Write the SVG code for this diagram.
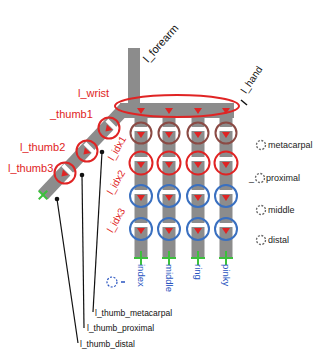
<svg xmlns="http://www.w3.org/2000/svg" width="335" height="354" viewBox="0 0 335 354">
  <defs>
    <style>
      .bone { fill: #8c8c8c; }
      .lbl-red { font-family: "Liberation Sans", Arial, sans-serif; font-size: 11px; fill: #e02424; }
      .lbl-blk { font-family: "Liberation Sans", Arial, sans-serif; font-size: 8.5px; fill: #111; }
      .lbl-leg { font-family: "Liberation Sans", Arial, sans-serif; font-size: 9px; fill: #222; }
      .lbl-blue { font-family: "Liberation Sans", Arial, sans-serif; font-size: 9.5px; fill: #2a55c0; }
      .ring-m { fill: none; stroke: #8b4a44; stroke-width: 2; }
      .ring-p { fill: none; stroke: #e02424; stroke-width: 2; }
      .ring-d { fill: none; stroke: #3a70c0; stroke-width: 2; }
      .band { fill: #ffffff; }
      .tri { fill: #e02424; }
      .tip { stroke: #3cc03c; stroke-width: 2; fill: none; }
      .leader { stroke: #111; stroke-width: 1.2; fill: none; }
      .dot { fill: #111; }
      .leg-ring { fill: none; stroke: #666; stroke-width: 1.3; stroke-dasharray: 2 1.5; }
    </style>
    <!-- joint marker: white band + red triangle -->
    <g id="joint">
      <rect class="band" x="-7" y="-6" width="14" height="4"/>
      <polygon class="tri" points="-4,-1 4,-1 0,5"/>
    </g>
  </defs>

  <!-- forearm -->
  <g id="forearm">
    <rect class="bone" x="128" y="48" width="12" height="58"/>
    <text class="lbl-blk" style="font-size:11px" transform="translate(148,63) rotate(-48)">l_forearm</text>
  </g>

  <!-- thumb chain -->
  <g id="thumb">
    <line x1="43" y1="195" x2="125" y2="108" stroke="#8c8c8c" stroke-width="13"/>
    <g transform="translate(109,128) rotate(45)">
      <use href="#joint"/>
    </g>
    <circle class="ring-p" cx="109" cy="128" r="10.5"/>
    <g transform="translate(87,151) rotate(45)">
      <use href="#joint"/>
    </g>
    <circle class="ring-p" cx="87" cy="151" r="10.5"/>
    <g transform="translate(65,173) rotate(45)">
      <use href="#joint"/>
    </g>
    <circle class="ring-p" cx="65" cy="173" r="10.5"/>
    <g transform="translate(43,195) rotate(45)">
      <line class="tip" x1="-6" y1="0" x2="6" y2="0"/>
      <line class="tip" x1="0" y1="-6" x2="0" y2="6"/>
    </g>
  </g>

  <!-- hand (palm) -->
  <g id="hand">
    <rect class="bone" x="120" y="103" width="114" height="15"/>
    <polygon class="tri" points="137,108 145,108 141,114"/>
    <polygon class="tri" points="165,108 173,108 169,114"/>
    <polygon class="tri" points="194,108 202,108 198,114"/>
    <polygon class="tri" points="222,108 230,108 226,114"/>
    <ellipse cx="177" cy="106" rx="62" ry="11" fill="none" stroke="#e02424" stroke-width="2"/>
    <line x1="241" y1="100" x2="247" y2="105" stroke="#111" stroke-width="1.5"/>
    <text class="lbl-blk" style="font-size:10px" transform="translate(246,94) rotate(-56)">l_hand</text>
  </g>

  <!-- fingers -->
  <g id="finger-index">
    <rect class="bone" x="134.5" y="118" width="13" height="140"/>
    <use href="#joint" x="141" y="133"/><circle class="ring-m" cx="141" cy="133" r="10.5"/>
    <use href="#joint" x="141" y="163"/><circle class="ring-p" cx="141" cy="163" r="11.5"/>
    <use href="#joint" x="141" y="196"/><circle class="ring-d" cx="141" cy="196" r="11"/>
    <use href="#joint" x="141" y="229"/><circle class="ring-d" cx="141" cy="229" r="11"/>
    <line class="tip" x1="134" y1="258" x2="148" y2="258"/><line class="tip" x1="141" y1="251" x2="141" y2="265"/>
    <text class="lbl-blue" transform="translate(138,264) rotate(90)">index</text>
  </g>
  <g id="finger-middle">
    <rect class="bone" x="162.5" y="118" width="13" height="140"/>
    <use href="#joint" x="169" y="133"/><circle class="ring-m" cx="169" cy="133" r="10.5"/>
    <use href="#joint" x="169" y="163"/><circle class="ring-p" cx="169" cy="163" r="11.5"/>
    <use href="#joint" x="169" y="196"/><circle class="ring-d" cx="169" cy="196" r="11"/>
    <use href="#joint" x="169" y="229"/><circle class="ring-d" cx="169" cy="229" r="11"/>
    <line class="tip" x1="162" y1="258" x2="176" y2="258"/><line class="tip" x1="169" y1="251" x2="169" y2="265"/>
    <text class="lbl-blue" transform="translate(166,264) rotate(90)">middle</text>
  </g>
  <g id="finger-ring">
    <rect class="bone" x="191.5" y="118" width="13" height="140"/>
    <use href="#joint" x="198" y="133"/><circle class="ring-m" cx="198" cy="133" r="10.5"/>
    <use href="#joint" x="198" y="163"/><circle class="ring-p" cx="198" cy="163" r="11.5"/>
    <use href="#joint" x="198" y="196"/><circle class="ring-d" cx="198" cy="196" r="11"/>
    <use href="#joint" x="198" y="229"/><circle class="ring-d" cx="198" cy="229" r="11"/>
    <line class="tip" x1="191" y1="258" x2="205" y2="258"/><line class="tip" x1="198" y1="251" x2="198" y2="265"/>
    <text class="lbl-blue" transform="translate(195,264) rotate(90)">ring</text>
  </g>
  <g id="finger-pinky">
    <rect class="bone" x="219.5" y="118" width="13" height="140"/>
    <use href="#joint" x="226" y="133"/><circle class="ring-m" cx="226" cy="133" r="10.5"/>
    <use href="#joint" x="226" y="163"/><circle class="ring-p" cx="226" cy="163" r="11.5"/>
    <use href="#joint" x="226" y="196"/><circle class="ring-d" cx="226" cy="196" r="11"/>
    <use href="#joint" x="226" y="229"/><circle class="ring-d" cx="226" cy="229" r="11"/>
    <line class="tip" x1="219" y1="258" x2="233" y2="258"/><line class="tip" x1="226" y1="251" x2="226" y2="265"/>
    <text class="lbl-blue" transform="translate(223,264) rotate(90)">pinky</text>
  </g>

  <!-- index-side joint labels -->
  <g id="index-labels">
    <text class="lbl-red" style="font-size:10px" text-anchor="middle" transform="translate(120,150) rotate(-60)">l_idx1</text>
    <text class="lbl-red" style="font-size:10px" text-anchor="middle" transform="translate(119,184) rotate(-60)">l_idx2</text>
    <text class="lbl-red" style="font-size:10px" text-anchor="middle" transform="translate(119,222) rotate(-60)">l_idx3</text>
    <circle cx="112" cy="282" r="5" fill="none" stroke="#2a55c0" stroke-width="1.2" stroke-dasharray="2 1.5"/>
    <line x1="121" y1="282" x2="125" y2="282" stroke="#2a55c0" stroke-width="1.5"/>
  </g>

  <!-- thumb / wrist labels -->
  <g id="wrist-labels">
    <text class="lbl-red" x="78" y="97">l_wrist</text>
    <text class="lbl-red" x="50" y="118">_thumb1</text>
    <text class="lbl-red" x="20" y="151">l_thumb2</text>
    <text class="lbl-red" x="8" y="172">l_thumb3</text>
  </g>

  <!-- leader lines to the thumb joint names -->
  <g id="connectors">
    <circle class="dot" cx="102" cy="152" r="2.3"/>
    <circle class="dot" cx="82" cy="175" r="2.3"/>
    <circle class="dot" cx="57" cy="199" r="2.3"/>
    <line class="leader" x1="102" y1="152" x2="93" y2="312"/>
    <line class="leader" x1="82" y1="175" x2="84" y2="328"/>
    <line class="leader" x1="57" y1="199" x2="78" y2="343"/>
  </g>
  <g id="thumb-names">
    <text class="lbl-blk" x="95" y="316">l_thumb_metacarpal</text>
    <text class="lbl-blk" x="87" y="331">l_thumb_proximal</text>
    <text class="lbl-blk" x="80" y="347">l_thumb_distal</text>
  </g>

  <!-- legend -->
  <g id="legend">
    <circle class="leg-ring" cx="261" cy="145" r="4.5"/>
    <text class="lbl-leg" x="268" y="148">metacarpal</text>
    <text class="lbl-leg" x="249" y="181">_</text>
    <circle class="leg-ring" cx="260" cy="178" r="4.5"/>
    <text class="lbl-leg" x="266" y="181">proximal</text>
    <circle class="leg-ring" cx="261" cy="210" r="4.5"/>
    <text class="lbl-leg" x="268" y="213">middle</text>
    <circle class="leg-ring" cx="261" cy="240" r="4.5"/>
    <text class="lbl-leg" x="268" y="243">distal</text>
  </g>
</svg>
